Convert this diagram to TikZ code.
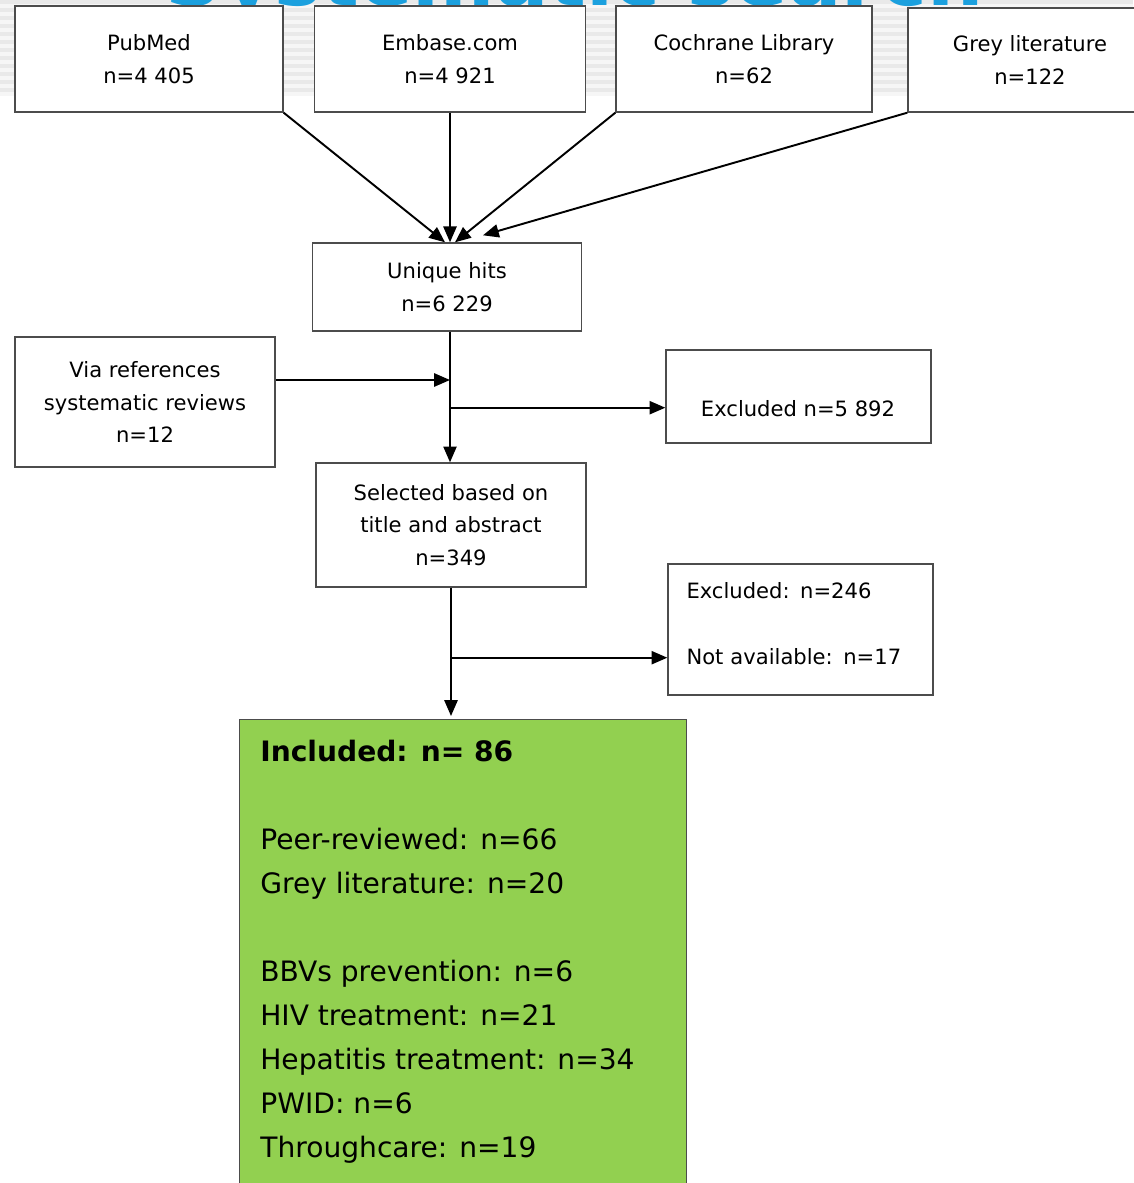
\documentclass[tikz,border=0pt]{standalone}
\usepackage{fontspec}
\setmainfont{DejaVu Sans}
\usepackage{tikz}
\usetikzlibrary{calc,arrows.meta}
\definecolor{slideblue}{RGB}{27,160,222}
\definecolor{inclgreen}{RGB}{146,208,80}
\tikzset{
	srcbox/.style={draw=black!70, line width=0.8pt, fill=white, align=center, inner sep=0pt,
		font=\fontsize{12}{18.7}\selectfont},
	boxtext/.style={inner sep=0pt, font=\fontsize{12}{18.7}\selectfont},
	flowarrow/.style={line width=1.1pt, -{Triangle[length=9pt,width=7.5pt]}}
}

\begin{document}
\begin{tikzpicture}[x=0.02cm, y=-0.02cm]
		%%%%% START %%%%%
		\useasboundingbox (0,0) rectangle (1133,1183);
		
		% slide background
		\fill[gray!7] (0,0) rectangle (1133,96);
		\foreach \yy in {0,8,...,88}
			\fill[gray!17] (0,\yy) rectangle (1133,\yy+4);
		\node[anchor=base, text=slideblue, font=\fontsize{45}{50}\bfseries\selectfont] (heading) at (575,6) {Systematic search};
		
		% databases
		\node[srcbox, minimum width=5.36cm, minimum height=2.12cm] (pubmed) at (149,59) {PubMed\\n=4 405};
		\node[srcbox, minimum width=5.42cm, minimum height=2.12cm] (embase) at (450,59) {Embase.com\\n=4 921};
		\node[srcbox, minimum width=5.12cm, minimum height=2.12cm] (cochrane) at (744,59) {Cochrane Library\\n=62};
		\node[srcbox, minimum width=4.88cm, minimum height=2.08cm] (greylit) at (1030,60) {Grey literature\\n=122};
		
		\node[srcbox, minimum width=5.38cm, minimum height=1.76cm] (unique) at (447,287) {Unique hits\\n=6 229};
		\node[srcbox, minimum width=5.2cm, minimum height=2.6cm] (viaref) at (145,402) {Via references\\systematic reviews\\n=12};
		\node[srcbox, minimum width=5.3cm, minimum height=1.86cm] (excl1) at (798.5,396.5) {};
		\node[boxtext] (excl1txt) at (798,409) {Excluded n=5 892};
		\node[srcbox, minimum width=5.4cm, minimum height=2.48cm] (selected) at (451,525) {Selected based on\\title and abstract\\n=349};
		\node[srcbox, minimum width=5.3cm, minimum height=2.62cm] (excl2) at (800.5,629.5) {};
		\node[boxtext, text width=4.62cm, align=left] (excl2txt) at (802,623.5) {Excluded: n=246\\\mbox{}\\Not available: n=17};
		
		% included
		\node[draw=black!70, line width=0.8pt, fill=inclgreen, minimum width=8.94cm, minimum height=10cm, anchor=north west, inner sep=0pt] (incl) at (239,719) {};
		\node[anchor=north west, inner sep=0pt, align=left, font=\fontsize{16}{25}\selectfont] (incltext) at (260,740)
			{\textbf{Included: n= 86}\\[25pt]Peer-reviewed: n=66\\Grey literature: n=20\\[25pt]BBVs prevention: n=6\\HIV treatment: n=21\\Hepatitis treatment: n=34\\PWID: n=6\\Throughcare: n=19};
		
		% arrows
		\draw[flowarrow] (pubmed.south east) -- ($(unique.north)+(-2,0)$);
		\draw[flowarrow] (embase.south) -- (embase.south |- unique.north);
		\draw[flowarrow] (cochrane.south west) -- ($(unique.north)+(8,0)$);
		\draw[flowarrow] (greylit.south west) -- ($(unique.north)+(36,-7)$);
		
		\draw[flowarrow] (unique.south -| embase.south) -- (embase.south |- selected.north);
		\coordinate (viain) at ($(viaref.east)+(0,-22)$);
		\draw[flowarrow] (viain) -- (viain -| embase.south);
		\coordinate (split1) at ($(unique.south -| embase.south)+(0,76)$);
		\draw[flowarrow] (split1) -- (split1 -| excl1.west);
		
		\draw[flowarrow] (selected.south) -- ($(selected.south |- incl.north)+(0,-3)$);
		\coordinate (split2) at ($(selected.south)+(0,70)$);
		\draw[flowarrow] (split2) -- (split2 -| excl2.west);
		
		%%%%% END %%%%%
	\end{tikzpicture}
\end{document}
